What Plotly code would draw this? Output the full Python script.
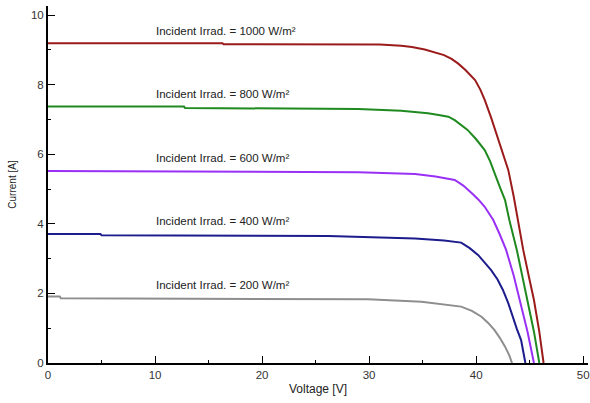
import plotly.graph_objects as go

# I-V curves
v_1000 = [0, 16.3, 16.4, 29.0, 31.0, 33.0, 34.0, 35.2, 36.2, 37.0, 37.7, 38.3, 39.0, 39.5, 39.9, 40.4,
          40.8, 41.4, 42.0, 42.5, 43.0, 43.5, 43.9, 44.4, 44.9, 45.4, 45.9, 46.3]
i_1000 = [9.19, 9.19, 9.16, 9.16, 9.15, 9.12, 9.08, 9.01, 8.93, 8.85, 8.74, 8.61, 8.42, 8.27, 8.13, 7.85,
          7.56, 7.05, 6.50, 6.02, 5.55, 4.80, 4.11, 3.25, 2.52, 1.81, 0.90, 0.0]

v_800 = [0, 12.7, 12.8, 29.0, 33.0, 35.5, 36.5, 37.4, 38.0, 38.6, 39.2, 40.0, 40.8, 41.3, 41.7,
         42.2, 42.7, 43.1, 43.8, 44.3, 44.8, 45.4, 45.9]
i_800 = [7.37, 7.37, 7.33, 7.30, 7.25, 7.18, 7.13, 7.08, 6.98, 6.85, 6.70, 6.43, 6.12, 5.80, 5.45,
         5.07, 4.68, 4.11, 3.25, 2.52, 1.81, 0.90, 0.0]

v_600 = [0, 29.0, 34.3, 36.2, 38.0, 38.8, 39.6, 40.2, 40.8, 41.6, 42.2, 42.8, 43.5, 44.1, 44.8, 45.4]
i_600 = [5.52, 5.48, 5.43, 5.36, 5.26, 5.10, 4.88, 4.70, 4.49, 4.11, 3.70, 3.25, 2.52, 1.81, 0.90, 0.0]

v_400 = [0, 4.9, 5.0, 26.2, 34.3, 37.0, 38.6, 39.4, 40.2, 40.8, 41.4, 42.0, 42.5, 43.0, 43.4,
         43.8, 44.2, 44.6]
i_400 = [3.71, 3.71, 3.67, 3.65, 3.58, 3.52, 3.46, 3.30, 3.10, 2.90, 2.67, 2.40, 2.10, 1.72, 1.33,
         0.98, 0.66, 0.0]

v_200 = [0, 1.1, 1.2, 26.2, 29.9, 34.9, 37.0, 38.6, 39.6, 40.5, 41.1, 41.7, 42.2, 42.7, 43.1, 43.35]
i_200 = [1.91, 1.91, 1.86, 1.85, 1.83, 1.76, 1.69, 1.62, 1.50, 1.33, 1.16, 0.95, 0.73, 0.47, 0.22, 0.0]

labels = ["Incident Irrad. = 1000 W/m²", "Incident Irrad. = 800 W/m²",
          "Incident Irrad. = 600 W/m²", "Incident Irrad. = 400 W/m²",
          "Incident Irrad. = 200 W/m²"]
label_y = [9.54, 7.73, 5.89, 4.08, 2.24]
label_x = 9.9

series = [(v_1000, i_1000, "#9B1B1B"), (v_800, i_800, "#1F8A1F"),
          (v_600, i_600, "#9A30F5"), (v_400, i_400, "#1C1C8C"),
          (v_200, i_200, "#8E8E8E")]

FONT = "Liberation Sans, Arial"

fig = go.Figure()
for (v, i, c), name in zip(series, labels):
    fig.add_trace(go.Scatter(x=v, y=i, mode="lines", name=name,
                             line=dict(color=c, width=2)))

for txt, y in zip(labels, label_y):
    fig.add_annotation(x=label_x, y=y, text=txt, showarrow=False, xanchor="left",
                       yanchor="middle", font=dict(family=FONT, size=11.5, color="#222"))

axis_common = dict(showline=True, linecolor="black", linewidth=2, showgrid=False, zeroline=False,
                   ticks="inside", ticklen=7, tickwidth=1.2, tickcolor="black", automargin=False,
                   ticklabeloverflow="allow",
                   tickfont=dict(family=FONT, size=11.5, color="#333"))

fig.update_xaxes(range=[0, 50.45], dtick=10, tick0=0,
                 minor=dict(dtick=5, ticks="inside", ticklen=3, tickcolor="black"),
                 title=dict(text="Voltage [V]", font=dict(family=FONT, size=12, color="#222"), standoff=5),
                 **axis_common)
fig.update_yaxes(range=[0, 10.26], dtick=2, tick0=0,
                 minor=dict(dtick=1, ticks="inside", ticklen=3, tickcolor="black"),
                 title=dict(text="Current [A]", font=dict(family=FONT, size=10, color="#222"), standoff=12),
                 **axis_common)

fig.update_layout(width=590, height=403, margin=dict(l=48, r=2, t=6, b=40),
                  plot_bgcolor="white", paper_bgcolor="white", showlegend=False)

fig.write_html("out.html", config={"displayModeBar": False},
               post_script="document.body.style.margin='0';")
